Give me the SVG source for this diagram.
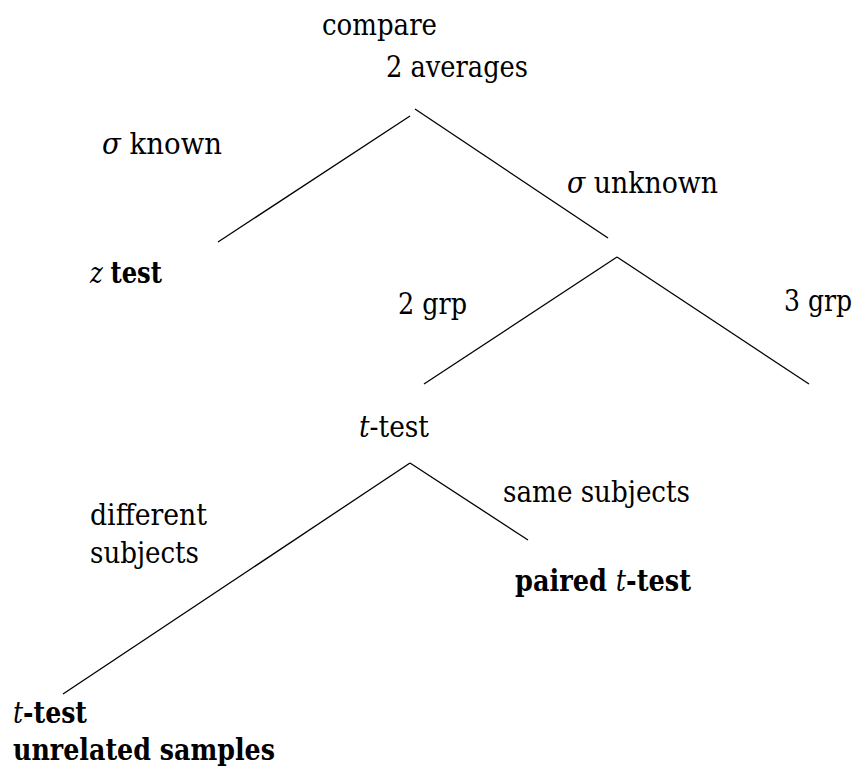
<svg xmlns="http://www.w3.org/2000/svg" width="858" height="776" viewBox="0 0 858 776">
<style>
.t text{font-family:'DejaVu Serif Condensed','DejaVu Serif',serif;font-stretch:condensed;font-size:29px;fill:#000}
.b{font-weight:bold}
.i{font-style:italic;font-weight:normal}
.e line{stroke:#000;stroke-width:1.3;fill:none}
</style>
<rect width="858" height="776" fill="#fff"/>
<g class="e" id="connectors">
<line x1="410" y1="116" x2="218" y2="242"/>
<line x1="415" y1="109" x2="608" y2="238"/>
<line x1="617" y1="257" x2="424" y2="384"/>
<line x1="617" y1="257" x2="809" y2="384"/>
<line x1="410" y1="463" x2="63" y2="694"/>
<line x1="410" y1="463" x2="528" y2="540"/>
</g>
<g class="t">
<g id="root"><text x="322" y="35" textLength="115" lengthAdjust="spacingAndGlyphs">compare</text><text x="386" y="77" textLength="142" lengthAdjust="spacingAndGlyphs">2 averages</text></g>
<g id="lbl-known"><text x="102" y="154" textLength="120" lengthAdjust="spacingAndGlyphs"><tspan class="i">σ</tspan> known</text></g>
<g id="lbl-unknown"><text x="567" y="193" textLength="151" lengthAdjust="spacingAndGlyphs"><tspan class="i">σ</tspan> unknown</text></g>
<g id="ztest"><text x="90" y="283" textLength="72" lengthAdjust="spacingAndGlyphs"><tspan class="i">z</tspan> <tspan class="b">test</tspan></text></g>
<g id="lbl-2grp"><text x="398" y="314" textLength="69" lengthAdjust="spacingAndGlyphs">2 grp</text></g>
<g id="lbl-3grp"><text x="784" y="311" textLength="68" lengthAdjust="spacingAndGlyphs">3 grp</text></g>
<g id="ttest"><text x="359" y="437" textLength="70" lengthAdjust="spacingAndGlyphs"><tspan class="i">t</tspan>-test</text></g>
<g id="lbl-diff"><text x="90" y="525" textLength="117" lengthAdjust="spacingAndGlyphs">different</text><text x="90" y="563" textLength="109" lengthAdjust="spacingAndGlyphs">subjects</text></g>
<g id="lbl-same"><text x="503" y="502" textLength="187" lengthAdjust="spacingAndGlyphs">same subjects</text></g>
<g id="paired"><text x="515" y="591" class="b" textLength="176" lengthAdjust="spacingAndGlyphs">paired <tspan class="i">t</tspan>-test</text></g>
<g id="unrelated"><text x="13" y="723" class="b" textLength="74" lengthAdjust="spacingAndGlyphs"><tspan class="i">t</tspan>-test</text><text x="13" y="760" class="b" textLength="262" lengthAdjust="spacingAndGlyphs">unrelated samples</text></g>
</g>
</svg>
